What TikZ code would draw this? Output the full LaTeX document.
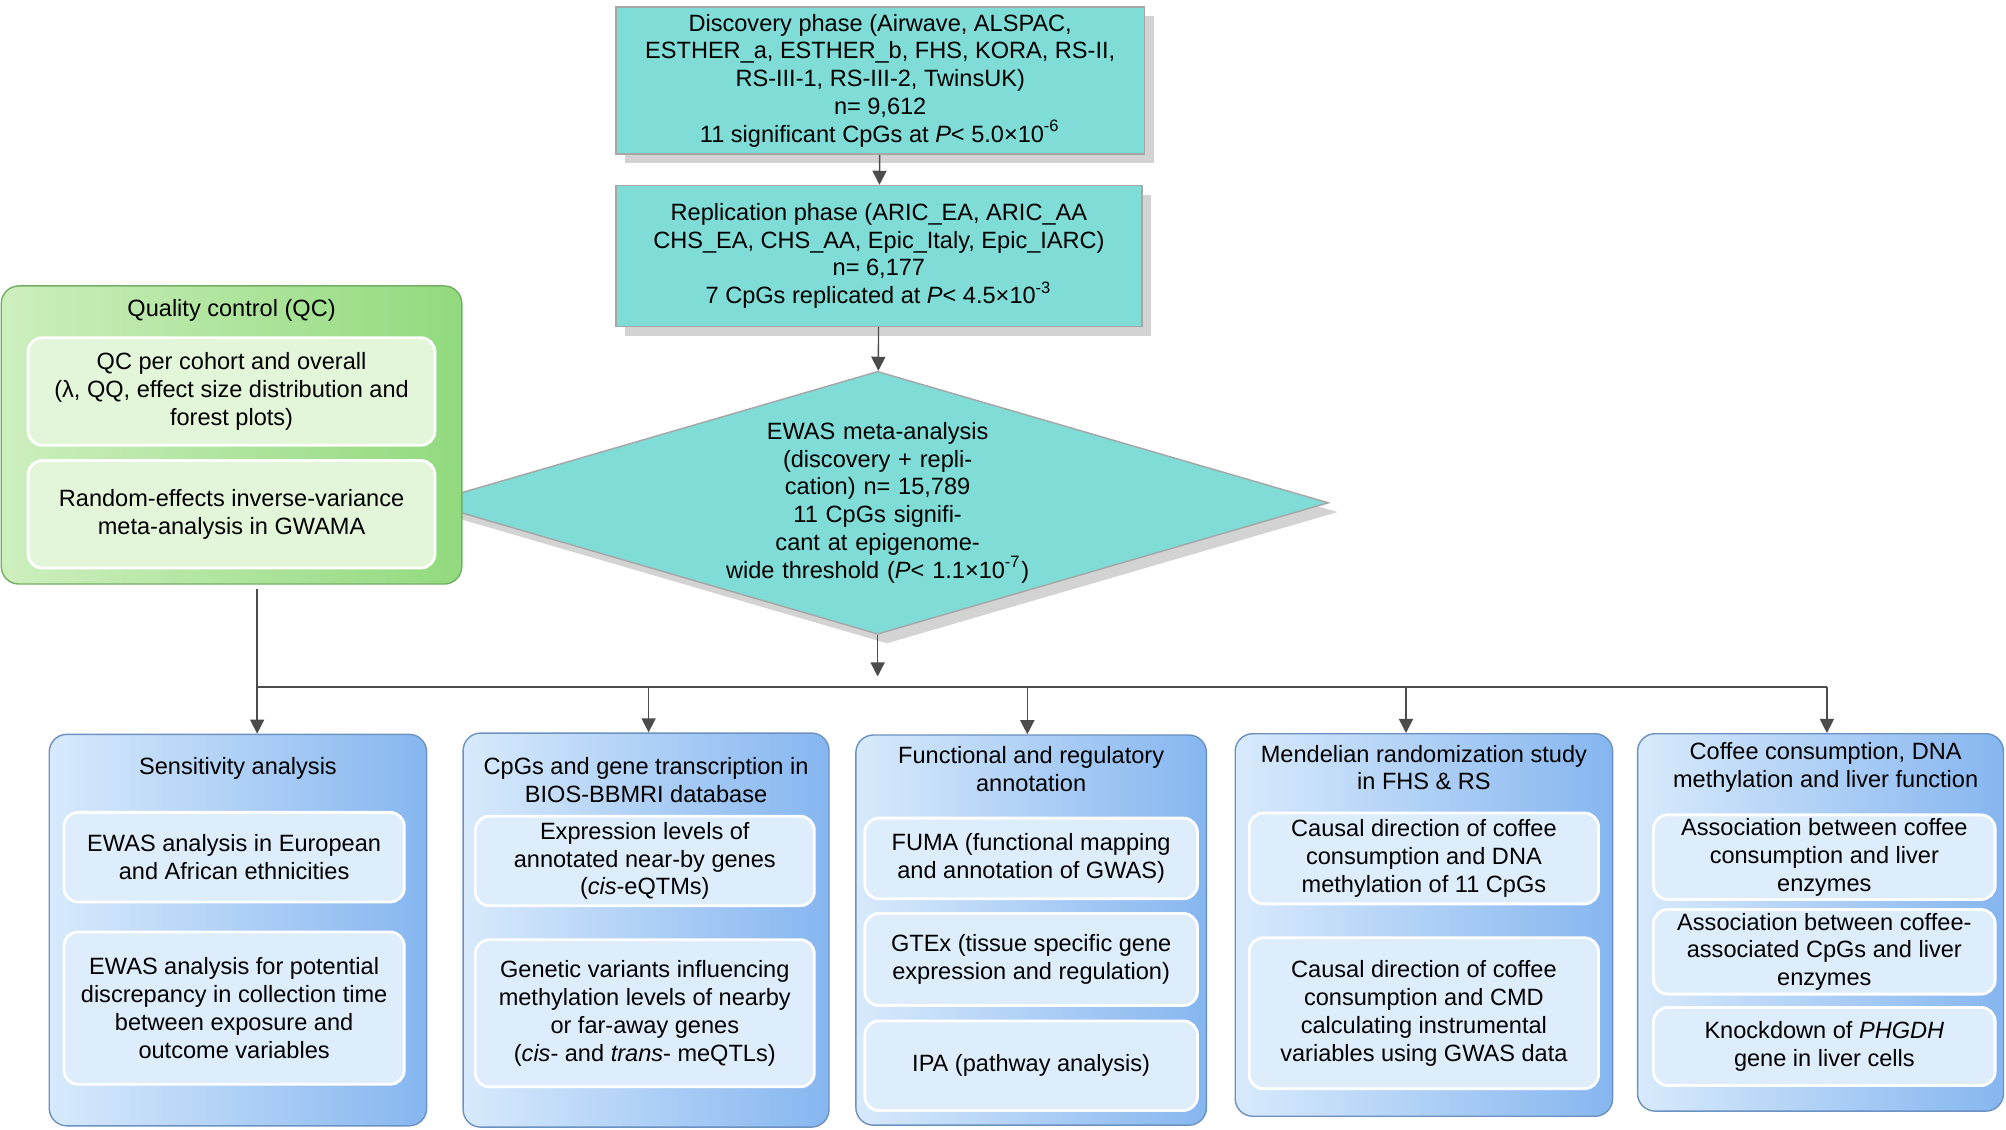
\documentclass[tikz,border=0pt]{standalone}
\usepackage{fontspec}
\setmainfont{Liberation Sans}
\usetikzlibrary{shapes.geometric,shadows,arrows.meta}
\definecolor{teal1}{HTML}{80DCD6}
\definecolor{blueL}{HTML}{D8EAFC}
\definecolor{blueR}{HTML}{86B6F0}
\definecolor{blueIn}{HTML}{DDEDFC}
\definecolor{greenL}{HTML}{CDEFBE}
\definecolor{greenR}{HTML}{92DA7E}
\definecolor{greenIn}{HTML}{E3F6DA}
\newcommand\U{0.01279cm}
\tikzset{
  phase/.style={draw=gray!70,fill=teal1,drop shadow={opacity=0.35},align=center,inner sep=1pt},
  outer/.style={draw=blueR!80!black,rounded corners=5pt,left color=blueL,right color=blueR},
  qcouter/.style={draw=greenR!80!black,rounded corners=5pt,left color=greenL,right color=greenR},
  inner/.style={draw=white,line width=0.8pt,rounded corners=4pt,fill=blueIn,align=center,inner sep=1pt},
  qcinner/.style={inner,fill=greenIn},
  title/.style={align=center,inner sep=0pt},
  arr/.style={draw=black!70,-{Triangle[length=4pt,width=4pt]}},
  ln/.style={draw=black!70}
}
\begin{document}
\begin{tikzpicture}[x=\U,y=-\U,font=\fontsize{6.7}{7.9}\selectfont]
\useasboundingbox (0,0) rectangle (1568,883);

% top phases
\node[phase,minimum width=413*\U,minimum height=115*\U] (disc) at (688,63) {Discovery phase (Airwave, ALSPAC,\\ESTHER\_a, ESTHER\_b, FHS, KORA, RS-II,\\RS-III-1, RS-III-2, TwinsUK)\\n= 9,612\\11 significant CpGs at \textit{P}< 5.0×10\textsuperscript{-6}};
\node[phase,minimum width=411*\U,minimum height=110*\U] (repl) at (687,200) {Replication phase (ARIC\_EA, ARIC\_AA\\CHS\_EA, CHS\_AA, Epic\_Italy, Epic\_IARC)\\n= 6,177\\7 CpGs replicated at \textit{P}< 4.5×10\textsuperscript{-3}};
\node[diamond,draw=gray!70,fill=teal1,drop shadow={opacity=0.35},aspect=3.43,inner sep=0pt,
  minimum width=620*\U,text width=3.5cm,align=center] (ewas) at (686,393)
  {EWAS meta-analysis\\(discovery + replication) n= 15,789\\11 CpGs significant at epigenome-\\wide threshold (\textit{P}< 1.1×10\textsuperscript{-7})};

% quality control
\node[qcouter,minimum width=360*\U,minimum height=233*\U] (qc) at (181,340) {};
\node[title] (qct) at (181,243) {Quality control (QC)};
\node[qcinner,minimum width=318*\U,minimum height=84*\U] (qc1) at (181,306) {QC per cohort and overall\\(λ, QQ, effect size distribution and\\forest plots)};
\node[qcinner,minimum width=318*\U,minimum height=84*\U] (qc2) at (181,402) {Random-effects inverse-variance\\meta-analysis in GWAMA};

% bottom boxes
\node[outer,minimum width=295*\U,minimum height=306*\U] (sens) at (186,727) {};
\node[title] at (186,601) {Sensitivity analysis};
\node[inner,minimum width=266*\U,minimum height=70*\U] (s1) at (183,670) {EWAS analysis in European\\and African ethnicities};
\node[inner,minimum width=266*\U,minimum height=119*\U] (s2) at (183,788) {EWAS analysis for potential\\discrepancy in collection time\\between exposure and\\outcome variables};

\node[outer,minimum width=286*\U,minimum height=308*\U] (tran) at (505,727) {};
\node[title] at (505,610) {CpGs and gene transcription in\\BIOS-BBMRI database};
\node[inner,minimum width=265*\U,minimum height=70*\U] (t1) at (504,673) {Expression levels of\\annotated near-by genes\\(\textit{cis}-eQTMs)};
\node[inner,minimum width=265*\U,minimum height=115*\U] (t2) at (504,792) {Genetic variants influencing\\methylation levels of nearby\\or far-away genes\\(\textit{cis}- and \textit{trans}- meQTLs)};

\node[outer,minimum width=274*\U,minimum height=305*\U] (func) at (806,727) {};
\node[title] at (806,601) {Functional and regulatory\\annotation};
\node[inner,minimum width=260*\U,minimum height=63*\U] (f1) at (806,671) {FUMA (functional mapping\\and annotation of GWAS)};
\node[inner,minimum width=260*\U,minimum height=72*\U] (f2) at (806,750) {GTEx (tissue specific gene\\expression and regulation)};
\node[inner,minimum width=260*\U,minimum height=70*\U] (f3) at (806,833) {IPA (pathway analysis)};

\node[outer,minimum width=295*\U,minimum height=299*\U] (mend) at (1113,723) {};
\node[title] at (1113,600) {Mendelian randomization study\\in FHS \& RS};
\node[inner,minimum width=273*\U,minimum height=71*\U] (m1) at (1113,671) {Causal direction of coffee\\consumption and DNA\\methylation of 11 CpGs};
\node[inner,minimum width=273*\U,minimum height=118*\U] (m2) at (1113,792) {Causal direction of coffee\\consumption and CMD\\calculating instrumental\\variables using GWAS data};

\node[outer,minimum width=286*\U,minimum height=295*\U] (cof) at (1423,721) {};
\node[title] at (1427,600) {Coffee consumption, DNA\\methylation and liver function};
\node[inner,minimum width=267*\U,minimum height=66*\U] (c1) at (1426,670) {Association between coffee\\consumption and liver\\enzymes};
\node[inner,minimum width=267*\U,minimum height=65*\U] (c2) at (1426,744) {Association between coffee-\\associated CpGs and liver\\enzymes};
\node[inner,minimum width=267*\U,minimum height=61*\U] (c3) at (1426,818) {Knockdown of \textit{PHGDH}\\gene in liver cells};

% connectors
\coordinate (jc) at (686,537);
\coordinate (jl) at (201,537);
\coordinate (jr) at (1428,537);
\coordinate (qcb) at (201,460);
\coordinate (j2) at (507,537);
\coordinate (j3) at (803,537);
\coordinate (j4) at (1099,537);
\draw[arr] (disc) -- (repl);
\draw[arr] (repl) -- (ewas);
\draw[arr] (ewas) -- ([yshift=3pt]jc);
\draw[ln] (jl) -- (jr);
\draw[arr] (qcb) -- (qcb|-sens.north);
\draw[arr] (j2) -- (j2|-tran.north);
\draw[arr] (j3) -- (j3|-func.north);
\draw[arr] (j4) -- (j4|-mend.north);
\draw[arr] (jr) -- (jr|-cof.north);
\end{tikzpicture}
\end{document}
